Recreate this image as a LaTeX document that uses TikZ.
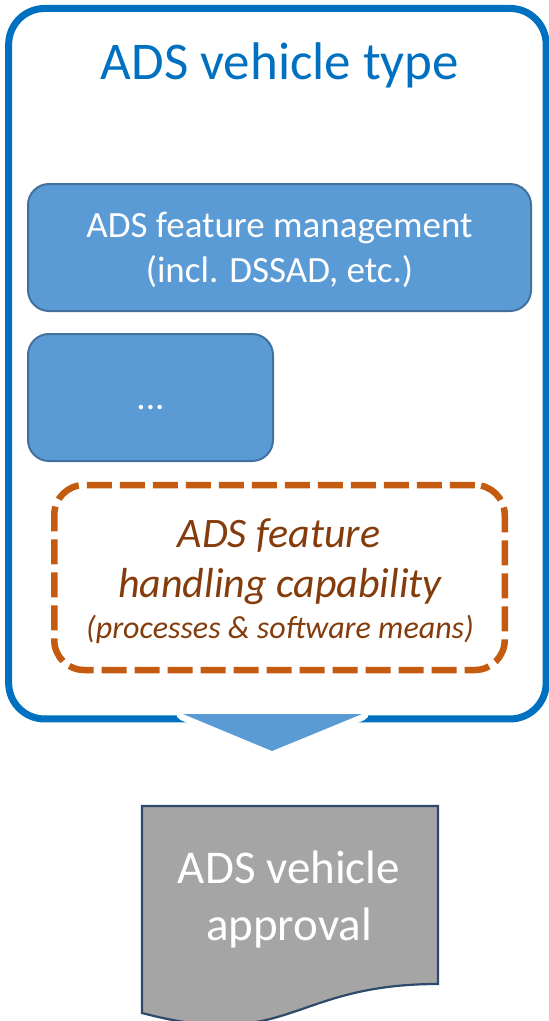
\documentclass[tikz,border=0pt]{standalone}
\usepackage{fontspec}
\setmainfont{Carlito}
\definecolor{typeblue}{HTML}{0070C0}
\definecolor{featfill}{HTML}{5B9BD5}
\definecolor{featline}{HTML}{41719C}
\definecolor{capline}{HTML}{C55A11}
\definecolor{captext}{HTML}{843C0C}
\definecolor{docfill}{HTML}{A5A5A5}
\definecolor{docline}{HTML}{2E4A6A}
\begin{document}
\begin{tikzpicture}[x=1pt,y=-1pt,
  outerbox/.style={draw=typeblue, line width=7pt, rounded corners=36pt, inner sep=0pt},
  featbox/.style={draw=featline, fill=featfill, line width=2pt, rounded corners=21pt, inner sep=0pt},
  capbox/.style={draw=capline, line width=6.5pt, dash pattern=on 25pt off 8pt, rounded corners=30pt, inner sep=0pt},
  titlelbl/.style={anchor=base, inner sep=0pt, text=typeblue, font=\fontsize{53}{60}\selectfont},
  featlbl/.style={anchor=base, inner sep=0pt, text=white, font=\fontsize{37}{44}\selectfont},
  caplbl/.style={anchor=base, inner sep=0pt, text=captext, font=\itshape\fontsize{42}{48}\selectfont},
  capsmall/.style={anchor=base, inner sep=0pt, text=captext, font=\itshape\fontsize{32}{36}\selectfont},
  doclbl/.style={anchor=base, inner sep=0pt, text=white, font=\fontsize{47}{54}\selectfont},
  arrowgap/.style={draw=white, line width=13pt, line join=round},
]
\useasboundingbox (0,0) rectangle (549,1021);

% vehicle type frame
\node[outerbox, minimum width=537.5pt, minimum height=710.5pt] (vtype) at (277.4,363.7) {};
\node[titlelbl] (title) at (280,79) {ADS vehicle type};

% feature boxes
\node[featbox, minimum width=503pt, minimum height=127pt] (mgmt) at (279.5,247.5) {};
\node[featlbl] (mgmtA) at (279.5,237) {ADS feature management};
\node[featlbl] (mgmtB) at (279.5,282) {(incl. DSSAD, etc.)};

\node[featbox, minimum width=245pt, minimum height=127pt] (more) at (150.5,397.5) {};
\node[featlbl] (dots) at (150.5,409) {...};

% handling capability (dashed)
\node[capbox, minimum width=450.5pt, minimum height=185pt] (cap) at (279.5,577.5) {};
\node[caplbl] (capA) at (279,547) {ADS feature};
\node[caplbl] (capB) at (280,597) {handling capability};
\node[capsmall] (capC) at (280,638) {(processes \& software means)};

% block arrow towards approval
\draw[arrowgap] (183,714) -- (362,714) -- (272,751) -- cycle;
\fill[featfill] (183,714) -- (362,714) -- (272,751) -- cycle;

% approval document
\draw[docline, fill=docfill, line width=2.2pt]
  (142,806) -- (438,806) -- (438,984)
  .. controls (290,984) and (290,1052) .. (142,1013) -- cycle;
\node[doclbl] (apprA) at (289,883) {ADS vehicle};
\node[doclbl] (apprB) at (289,940) {approval};
\end{tikzpicture}
\end{document}
